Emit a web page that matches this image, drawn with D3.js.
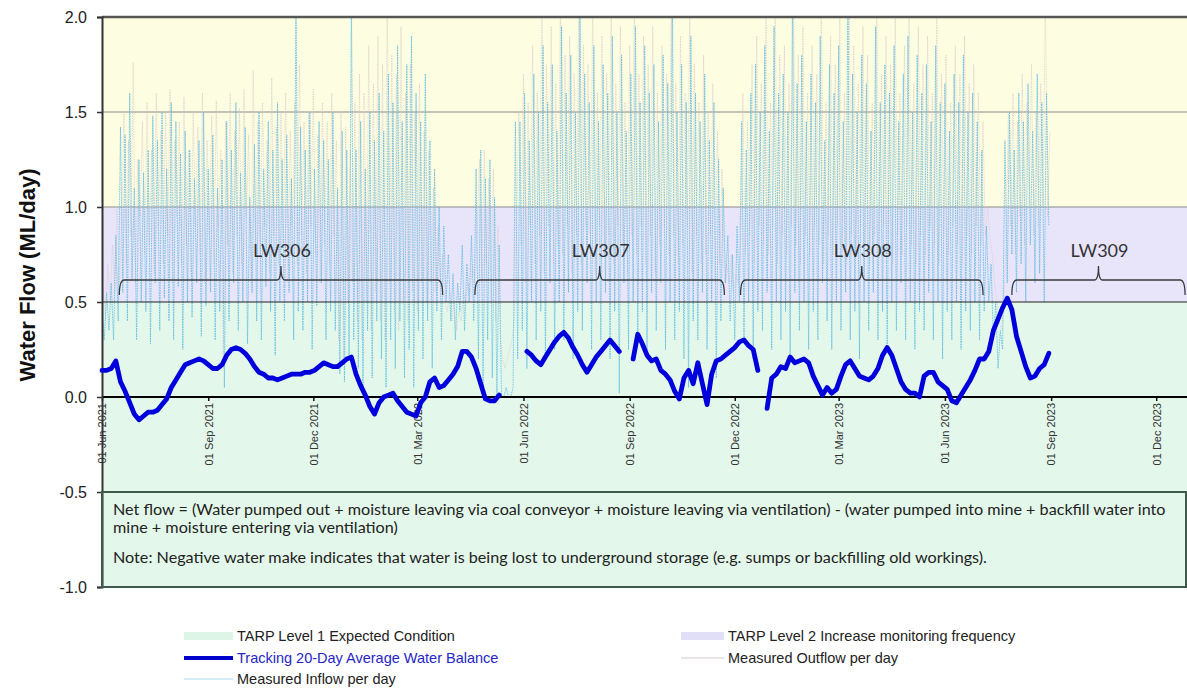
<!DOCTYPE html>
<html>
<head>
<meta charset="utf-8">
<script src="https://cdn.jsdelivr.net/npm/d3@7"></script>
<style>
  html, body { margin: 0; padding: 0; background: #ffffff; }
  svg { display: block; }
</style>
</head>
<body>
<svg id="chart" width="1187" height="691"></svg>
<script>
// ---------------------------------------------------------------
// Data
// ---------------------------------------------------------------

// Tracking 20-day average water balance (ML/day), sampled every 4 days from 1 Jun 2021; null = no data
const balanceStart = "2021-06-01";
const balanceStepDays = 4;
const balance = [
  0.14,0.14,0.15,0.19,0.08,0.03,-0.03,-0.09,-0.12,-0.10,
  -0.08,-0.08,-0.07,-0.04,-0.01,0.05,0.09,0.13,0.17,0.18,
  0.19,0.20,0.19,0.17,0.15,0.15,0.17,0.22,0.25,0.26,
  0.25,0.23,0.20,0.16,0.13,0.12,0.10,0.10,0.09,0.10,
  0.11,0.12,0.12,0.12,0.13,0.13,0.14,0.16,0.18,0.17,
  0.16,0.16,0.18,0.20,0.21,0.12,0.06,0.01,-0.05,-0.09,
  -0.03,0.00,0.01,0.02,-0.02,-0.05,-0.08,-0.09,-0.10,-0.03,
  0.00,0.08,0.10,0.05,0.06,0.09,0.12,0.16,0.24,0.24,
  0.21,0.15,0.07,-0.01,-0.02,-0.02,0.01,null,null,null,
  null,null,0.24,0.22,0.19,0.17,0.21,0.25,0.29,0.32,
  0.34,0.31,0.26,0.22,0.17,0.13,0.17,0.21,0.24,0.27,
  0.30,0.27,0.24,null,null,0.20,0.33,0.28,0.22,0.19,
  0.20,0.14,0.12,0.09,0.03,-0.01,0.10,0.14,0.07,0.18,
  0.07,-0.04,0.12,0.19,0.20,0.22,0.24,0.26,0.29,0.30,
  0.27,0.25,0.14,null,-0.06,0.10,0.12,0.16,0.15,0.21,
  0.18,0.19,0.20,0.18,0.11,0.06,0.01,0.05,0.02,0.04,
  0.11,0.17,0.19,0.15,0.11,0.10,0.09,0.11,0.15,0.22,
  0.26,0.22,0.15,0.08,0.04,0.02,0.02,0.00,0.11,0.13,
  0.13,0.08,0.06,0.04,-0.02,-0.03,0.01,0.05,0.09,0.14,
  0.20,0.20,0.24,0.35,0.41,0.47,0.52,0.46,0.32,0.24,
  0.16,0.10,0.11,0.15,0.17,0.23
];

// Measured inflow per day (ML/day), every 2 days from 1 Jun 2021
const inflowStart = "2021-06-01";
const inflowStepDays = 2;
const inflow = [
  0.45,0.3,0.55,0.35,0.6,0.3,0.85,0.4,
  1.42,0.55,1.38,0.4,1.6,0.62,1.1,0.3,1.25,0.5,
  1.18,0.45,1.3,0.28,1.48,0.6,1.35,0.35,1.5,0.52,
  1.2,0.4,1.55,0.3,1.45,0.58,1.28,0.25,1.4,0.5,
  1.3,0.42,1.15,0.6,1.35,0.32,1.5,0.48,1.2,0.55,
  1.38,0.3,1.1,0.45,1.25,0.05,1.45,0.4,1.3,0.6,
  1.55,0.35,1.18,0.5,1.42,0.28,1.05,0.55,1.33,0.4,
  1.5,0.3,1.2,0.58,1.45,0.45,1.3,0.22,1.55,0.5,
  1.25,0.4,1.38,0.55,1.15,0.3,2.1,0.45,1.42,0.35,
  1.3,0.5,1.5,0.25,1.2,0.48,1.45,0.6,1.35,0.3,
  1.25,0.45,1.5,0.35,1.1,0.12,1.4,0.08,1.3,0.2,
  2.1,0.3,1.3,0.15,1.45,0.05,1.2,0.35,1.5,0.1,
  1.35,0.4,1.6,0.2,1.4,0.05,1.7,0.3,1.55,0.15,
  1.85,0.4,1.45,0.1,1.75,0.25,1.9,0.05,1.6,0.35,
  1.45,0.2,1.7,0.4,1.35,0.15,1.2,0.45,1.0,0.3,0.9,
  0.5,0.75,0.4,0.65,0.3,0.6,0.45,0.8,0.35,0.7,0.5,0.85,0.4,
  1.2,0.2,1.3,0.05,1.15,0.3,1.25,0.1,1.05,0.0,0.8,
  0.0,0.0,0.05,0.0,0.0,0.05,1.45,
  0.2,1.45,0.35,1.6,0.15,1.35,0.5,1.7,0.3,1.5,
  0.45,1.85,0.2,1.55,0.6,1.75,0.25,1.4,0.5,1.95,
  0.3,1.6,0.55,1.8,0.2,1.5,0.45,2.1,0.35,1.7,
  0.6,1.55,0.25,1.85,0.5,1.45,0.3,1.75,0.55,1.6,
  0.2,1.9,0.45,1.5,0.02,1.8,0.6,1.4,0.25,1.7,
  0.5,1.95,0.3,1.55,0.45,1.85,0.2,1.6,0.55,1.75,
  0.35,1.45,0.6,1.8,0.25,1.65,0.5,2.1,0.3,1.5,
  0.45,1.75,0.2,1.55,0.05,1.9,0.4,1.6,0.3,1.45,
  0.55,1.7,0.25,1.35,0.5,1.55,0.1,1.25,0.4,1.1,
  0.6,0.85,0.4,0.75,0.3,0.9,0.5,
  1.45,0.3,1.3,0.5,1.6,0.2,1.75,0.45,1.5,0.35,
  1.85,0.55,1.4,0.25,1.95,0.5,1.6,0.3,1.7,0.45,
  1.5,0.2,2.1,0.55,1.65,0.35,1.8,0.5,1.45,0.25,
  1.7,0.45,1.55,0.3,1.9,0.6,1.35,0.4,1.75,0.25,
  1.6,0.5,1.85,0.35,1.45,0.55,2.1,0.3,1.7,0.45,
  1.5,0.2,1.8,0.5,1.65,0.35,1.4,0.55,1.95,0.3,
  1.55,0.45,1.75,0.25,1.6,0.5,1.85,0.35,1.45,0.6,
  1.7,0.3,1.9,0.5,1.5,0.25,1.8,0.45,1.6,0.35,
  1.75,0.55,1.45,0.3,1.85,0.5,1.55,0.2,1.65,0.45,
  1.4,0.3,1.7,0.5,1.55,0.25,1.8,0.45,1.5,0.35,
  1.6,0.5,1.45,0.3,1.3,0.45,
  0.9,0.5,0.7,0.3,0.5,0.15,0.35,0.25,
  1.35,0.6,1.5,0.75,1.3,0.55,1.6,0.7,1.45,0.5,
  1.65,0.8,1.4,0.6,1.7,0.65,1.55,0.5,1.6,0.9
];

// Measured outflow per day (ML/day), every 2 days from 2 Jun 2021
const outflowStart = "2021-06-02";
const outflowStepDays = 2;
const outflow = [
  0.6,0.4,0.7,0.5,0.8,0.55,1.0,0.6,
  0.9,1.5,0.7,1.35,0.85,1.76,0.6,1.25,0.95,1.45,
  0.75,1.55,0.8,1.3,0.65,1.6,0.9,1.4,0.7,1.5,
  0.85,1.62,0.6,1.35,0.95,1.45,0.7,1.58,0.8,1.3,
  0.65,1.5,0.9,1.42,0.75,1.6,0.6,1.35,0.85,1.48,
  0.7,1.56,0.9,1.3,0.15,1.45,0.8,1.6,0.65,1.4,
  0.85,1.52,0.7,1.62,0.95,1.38,0.6,1.72,0.8,1.45,
  0.75,1.55,0.9,1.35,0.65,1.68,0.85,1.42,0.7,1.5,
  0.8,1.6,0.6,1.4,0.9,1.55,0.7,1.75,0.85,1.45,
  0.65,1.5,0.9,1.62,0.75,1.38,0.6,1.55,0.8,1.45,
  0.7,1.6,0.85,1.35,0.3,1.5,0.2,1.42,0.5,1.3,
  0.6,1.55,0.4,1.7,0.3,1.6,0.5,1.85,0.35,1.65,
  0.55,1.9,0.4,1.75,0.3,2.1,0.6,1.8,0.45,1.7,
  0.35,1.95,0.5,1.6,0.4,1.75,0.55,1.5,0.45,1.65,
  0.6,1.4,0.5,1.3,0.6,1.1,0.55,0.9,0.6,0.75,0.5,
  0.45,0.55,0.4,0.5,0.35,0.45,0.4,0.55,0.5,0.6,0.55,0.7,0.6,
  0.9,1.25,0.6,1.3,0.7,1.15,0.5,1.2,0.4,0.9,0.3,
  0.2,0.15,0.2,0.25,0.3,0.4,0.9,
  1.5,0.8,1.7,0.6,1.55,0.9,1.85,0.7,1.6,0.85,
  2.1,0.65,1.75,0.9,1.95,0.7,1.65,0.8,2.1,0.75,
  1.8,0.9,1.9,0.65,1.7,0.85,2.1,0.7,1.85,0.9,
  1.75,0.8,2.1,0.65,1.6,0.9,1.9,0.75,1.7,0.85,
  2.1,0.7,1.65,0.9,1.95,0.8,1.55,0.65,1.85,0.85,
  2.1,0.75,1.7,0.9,1.9,0.7,1.75,0.85,1.95,0.65,
  1.6,0.8,1.85,0.9,1.7,0.75,2.1,0.85,1.65,0.7,
  1.9,0.8,1.6,0.9,2.0,0.65,1.75,0.85,1.55,0.7,
  1.8,0.75,1.5,0.85,1.65,0.6,1.4,0.7,1.2,0.6,
  0.7,0.6,0.75,0.55,0.65,0.6,0.8,
  1.6,0.75,1.45,0.85,1.75,0.7,1.9,0.9,1.65,0.8,
  2.1,0.75,1.55,0.9,2.1,0.7,1.8,0.85,1.85,0.75,
  1.65,0.9,2.1,0.8,1.8,0.7,1.95,0.85,1.6,0.75,
  1.85,0.9,1.7,0.8,2.1,0.7,1.55,0.85,1.9,0.75,
  1.75,0.9,2.0,0.8,1.6,0.7,2.1,0.85,1.85,0.75,
  1.65,0.9,1.95,0.8,1.8,0.7,1.55,0.85,2.1,0.75,
  1.7,0.9,1.9,0.8,1.75,0.7,2.0,0.85,1.6,0.75,
  1.85,0.9,2.1,0.8,1.65,0.7,1.95,0.85,1.75,0.75,
  1.9,0.9,1.6,0.8,2.0,0.7,1.7,0.85,1.8,0.75,
  1.55,0.9,1.85,0.8,1.7,0.7,1.9,0.85,1.65,0.75,
  1.75,0.9,1.6,0.8,1.45,0.85,
  1.0,0.85,0.75,0.6,0.5,0.4,0.35,0.5,
  0.8,1.5,0.9,1.6,0.75,1.45,0.95,1.7,0.8,1.55,
  1.0,1.75,0.85,1.5,0.9,1.65,1.0,2.1,0.95,1.4
];

// TARP trigger bands (ML/day)
const tarpBands = [
  { name: "above", from: 1.0, to: 2.0 },
  { name: "TARP Level 2 Increase monitoring frequency", from: 0.5, to: 1.0 },
  { name: "TARP Level 1 Expected Condition", from: -1.0, to: 0.5 }
];

// Longwall panels mined
const panelNames  = ["LW306", "LW307", "LW308", "LW309"];
const panelStarts = ["2021-06-16", "2022-04-20", "2022-12-06", "2023-07-29"];
const panelEnds   = ["2022-03-23", "2022-11-22", "2023-07-04", "2023-12-26"];

// Axis ticks
const yTicks = [-1.0, -0.5, 0.0, 0.5, 1.0, 1.5, 2.0];
const xTickDates = ["2021-06-01", "2021-09-01", "2021-12-01", "2022-03-01", "2022-06-01",
                    "2022-09-01", "2022-12-01", "2023-03-01", "2023-06-01", "2023-09-01", "2023-12-01"];

const noteLines = [
  "Net flow = (Water pumped out + moisture leaving via coal conveyor + moisture leaving via ventilation) - (water pumped into mine + backfill water into",
  "mine + moisture entering via ventilation)",
  "Note: Negative water make indicates that water is being lost to underground storage (e.g. sumps or backfilling old workings)."
];

// ---------------------------------------------------------------
// Drawing
// ---------------------------------------------------------------
const parse = d3.utcParse("%Y-%m-%d");
const svg = d3.select("#chart");

const left = 102, right = 1187;
const x = d3.scaleUtc()
  .domain([parse("2021-06-01"), parse("2024-01-01")])
  .range([left, 1192]);
const y = d3.scaleLinear().domain([-1, 2]).range([587, 17]);

const toSeries = (start, step, vals) =>
  vals.map((v, i) => ({ date: d3.utcDay.offset(parse(start), i * step), v }));

const bandFill = ["#fdfde1", "#e8e5fa", "#e3f8eb"];

// background bands
svg.append("g").selectAll("rect").data(tarpBands).join("rect")
  .attr("x", left).attr("width", right - left)
  .attr("y", d => y(d.to)).attr("height", d => y(d.from) - y(d.to))
  .attr("fill", (d, i) => bandFill[i]);

// light grid lines behind the daily series
const gridBack = [1.5, 1.0];
svg.append("g").selectAll("line").data(gridBack).join("line")
  .attr("x1", left).attr("x2", right)
  .attr("y1", d => y(d)).attr("y2", d => y(d))
  .attr("stroke", "#8a8a8a").attr("stroke-width", 1.2);

svg.append("clipPath").attr("id", "plotClip")
  .append("rect").attr("x", left).attr("y", y(2)).attr("width", right - left).attr("height", y(-1) - y(2));

const lineGen = d3.line()
  .defined(d => d.v != null)
  .x(d => x(d.date)).y(d => y(d.v));

const daily = svg.append("g").attr("clip-path", "url(#plotClip)");
daily.append("path")
  .datum(toSeries(outflowStart, outflowStepDays, outflow))
  .attr("d", lineGen)
  .attr("fill", "none").attr("stroke", "#d6c5c8").attr("stroke-width", 0.65)
  .attr("stroke-opacity", 0.9).attr("stroke-dasharray", "1.5,1");
daily.append("path")
  .datum(toSeries(inflowStart, inflowStepDays, inflow))
  .attr("d", lineGen)
  .attr("fill", "none").attr("stroke", "#5cbbe0").attr("stroke-width", 0.85)
  .attr("stroke-opacity", 0.95).attr("stroke-dasharray", "1.6,0.9");

// front grid lines
const gridFront = [
  { v: 0.5, c: "#1e1e1e", w: 1.2 },
  { v: -0.5, c: "#4c6a5b", w: 2 },
  { v: -1.0, c: "#3f5a4c", w: 2 },
  { v: 2.0, c: "#555555", w: 2.5 }
];
svg.append("g").selectAll("line").data(gridFront).join("line")
  .attr("x1", left).attr("x2", right)
  .attr("y1", d => y(d.v)).attr("y2", d => y(d.v))
  .attr("stroke", d => d.c).attr("stroke-width", d => d.w);

// zero line and date axis
const fmt = d3.utcFormat("%d %b %Y");
const xAxis = d3.axisBottom(x)
  .tickValues(xTickDates.map(parse))
  .tickFormat(fmt)
  .tickSize(4)
  .tickPadding(0);
const xg = svg.append("g").attr("transform", `translate(0,${y(0)})`).call(xAxis);
xg.select(".domain").remove();
xg.selectAll(".tick line").attr("stroke", "#111").attr("stroke-width", 1.5);
xg.selectAll(".tick text")
  .attr("transform", "rotate(-90)")
  .attr("x", -6).attr("y", 0).attr("dy", "0.35em")
  .attr("text-anchor", "end")
  .attr("fill", "#333")
  .style("font-family", "Arial, 'Liberation Sans', sans-serif")
  .style("font-size", "11px");
svg.append("line")
  .attr("x1", left).attr("x2", right).attr("y1", y(0)).attr("y2", y(0))
  .attr("stroke", "#000").attr("stroke-width", 2);

// y axis
const yAxis = d3.axisLeft(y).tickValues(yTicks).tickFormat(d => d.toFixed(1)).tickSize(5).tickPadding(10);
const yg = svg.append("g").attr("transform", `translate(${left},0)`).call(yAxis);
yg.select(".domain").attr("stroke", "#333").attr("stroke-width", 2);
yg.selectAll(".tick line").attr("stroke", "#333").attr("stroke-width", 1.5);
yg.selectAll(".tick text")
  .attr("fill", "#222")
  .style("font-family", "Arial, 'Liberation Sans', sans-serif")
  .style("font-size", "16px");

svg.append("text")
  .attr("transform", `translate(35,275) rotate(-90)`)
  .attr("text-anchor", "middle")
  .attr("fill", "#111")
  .style("font-family", "Arial, 'Liberation Sans', sans-serif")
  .style("font-size", "22px").style("font-weight", "bold")
  .text("Water Flow (ML/day)");

// 20-day average balance
svg.append("path")
  .datum(toSeries(balanceStart, balanceStepDays, balance))
  .attr("d", lineGen)
  .attr("fill", "none").attr("stroke", "#0000dd").attr("stroke-width", 4.8)
  .attr("stroke-linejoin", "round").attr("stroke-linecap", "round");

// longwall braces
const braceY = 280, braceEnd = 295, braceTip = 266;
const panels = panelNames.map((n, i) => ({ name: n, x1: x(parse(panelStarts[i])), x2: x(parse(panelEnds[i])) }));
const bg = svg.append("g");
bg.selectAll("path").data(panels).join("path")
  .attr("d", d => {
    const xm = (d.x1 + d.x2) / 2;
    return `M${d.x1},${braceEnd} Q${d.x1},${braceY} ${d.x1 + 5},${braceY} L${xm - 4},${braceY} ` +
           `Q${xm},${braceY} ${xm},${braceTip} Q${xm},${braceY} ${xm + 4},${braceY} ` +
           `L${d.x2 - 5},${braceY} Q${d.x2},${braceY} ${d.x2},${braceEnd}`;
  })
  .attr("fill", "none").attr("stroke", "#3a3a3a").attr("stroke-width", 1.3);
bg.selectAll("text").data(panels).join("text")
  .attr("x", d => (d.x1 + d.x2) / 2 + 1).attr("y", 257)
  .attr("text-anchor", "middle").attr("fill", "#333")
  .style("font-family", "Lato, 'Open Sans', sans-serif").style("font-size", "18px")
  .text(d => d.name);

// explanatory note box
svg.append("rect")
  .attr("x", left).attr("y", y(-0.5)).attr("width", right - left - 1).attr("height", y(-1) - y(-0.5))
  .attr("fill", "none").attr("stroke", "#3f5a4c").attr("stroke-width", 2);
const noteY = [515, 533, 563];
const notes = svg.append("g")
  .style("font-family", "Lato, 'Open Sans', sans-serif").style("font-size", "13px")
  .attr("fill", "#222");
notes.selectAll("text").data(noteLines).join("text")
  .attr("x", 113).attr("y", (d, i) => noteY[i]).text(d => d);
// size the note text so the first line spans the box
const firstLen = notes.select("text").node().getComputedTextLength();
notes.style("font-size", (13 * 1053 / firstLen).toFixed(2) + "px");

// legend
const legend = [
  { label: "TARP Level 1 Expected Condition", kind: "rect", fill: "#dcf5e7", col: 0, row: 0 },
  { label: "TARP Level 2 Increase monitoring frequency", kind: "rect", fill: "#e1def8", col: 1, row: 0 },
  { label: "Tracking 20-Day Average Water Balance", kind: "line", stroke: "#0000cc", w: 4, col: 0, row: 1, text: "#2626c8" },
  { label: "Measured Outflow per day", kind: "line", stroke: "#d3cbcb", w: 1, col: 1, row: 1 },
  { label: "Measured Inflow per day", kind: "line", stroke: "#a9d9ec", w: 1, col: 0, row: 2 }
];
const colX = [184, 681], colW = [49, 43], rowY = [636, 658, 679];
const lg = svg.append("g");
legend.forEach(d => {
  const x0 = colX[d.col], yy = rowY[d.row], w = colW[d.col];
  if (d.kind === "rect") {
    lg.append("rect").attr("x", x0).attr("y", yy - 4).attr("width", w).attr("height", 8).attr("fill", d.fill);
  } else {
    lg.append("line").attr("x1", x0).attr("x2", x0 + w).attr("y1", yy).attr("y2", yy)
      .attr("stroke", d.stroke).attr("stroke-width", d.w);
  }
  lg.append("text").attr("x", x0 + w + 4).attr("y", yy).attr("dy", "0.36em")
    .attr("fill", d.text || "#222")
    .style("font-family", "Arial, 'Liberation Sans', sans-serif").style("font-size", "14.5px")
    .text(d.label);
});
</script>
</body>
</html>
